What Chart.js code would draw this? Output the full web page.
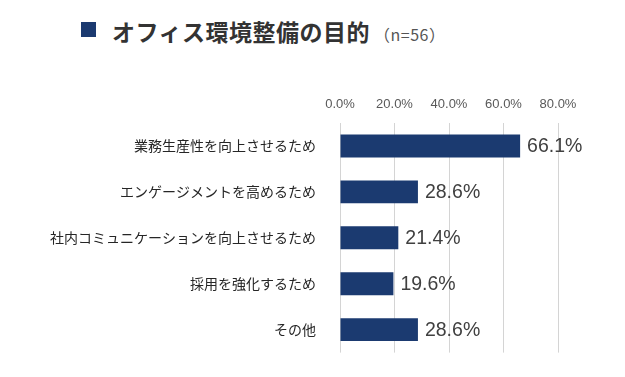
<!DOCTYPE html>
<html><head><meta charset="utf-8">
<script src="https://cdn.jsdelivr.net/npm/chart.js@4/dist/chart.umd.min.js"></script>
<style>
html,body{margin:0;padding:0;background:#fff;}
#wrap{position:relative;width:625px;height:377px;overflow:hidden;}
#sq{position:absolute;left:81px;top:22px;width:15px;height:15px;background:#1b3a70;}
#title{position:absolute;left:112px;top:16px;font-family:"Noto Sans CJK JP";font-weight:bold;font-size:23px;color:#333;line-height:30px;white-space:nowrap;letter-spacing:0.5px;}
#title span{font-weight:normal;font-size:16px;color:#555;margin-left:4px;letter-spacing:0.5px;}
canvas{position:absolute;left:0;top:0;}
</style></head>
<body><div id="wrap">
<div id="sq"></div>
<div id="title">オフィス環境整備の目的<span>（n=56）</span></div>
<canvas id="c" width="625" height="377"></canvas>
</div>
<script>
const categories = ["業務生産性を向上させるため","エンゲージメントを高めるため","社内コミュニケーションを向上させるため","採用を強化するため","その他"];
const values = [66.1, 28.6, 21.4, 19.6, 28.6];
const tickValues = [0, 20, 40, 60, 80];

const dataLabels = {
  id:'dataLabels',
  afterDatasetsDraw(chart){
    const ctx = chart.ctx;
    const meta = chart.getDatasetMeta(0);
    ctx.save();
    ctx.font = '19.5px "Liberation Sans", Arial, sans-serif';
    ctx.fillStyle = '#404040';
    ctx.textAlign = 'left';
    ctx.textBaseline = 'middle';
    meta.data.forEach((bar,i)=>{
      ctx.fillText(values[i].toFixed(1)+'%', bar.x + 7, bar.y + 1);
    });
    ctx.restore();
  }
};

new Chart(document.getElementById('c'), {
  type:'bar',
  data:{labels:categories, datasets:[{data:values, backgroundColor:'#1b3a70', borderWidth:0, categoryPercentage:1, barPercentage:0.5}]},
  options:{
    responsive:false, animation:false, indexAxis:'y',
    layout:{padding:{top:90,right:67,bottom:24,left:0}},
    plugins:{legend:{display:false},tooltip:{enabled:false}},
    scales:{
      x:{position:'top', min:0, max:80,
        afterBuildTicks(s){ s.ticks = tickValues.map(v=>({value:v})); },
        afterFit(s){ s.height = 33; },
        grid:{color:'#d4d4d4', drawTicks:false, lineWidth:1},
        border:{display:false},
        ticks:{padding:11, color:'#595959', font:{family:'"Liberation Sans", Arial, sans-serif', size:13}, callback:(v)=>Number(v).toFixed(1)+'%'}
      },
      y:{
        afterFit(s){ s.width = 340; },
        grid:{display:false}, border:{display:false},
        ticks:{padding:16, color:'#262626', font:{family:'"Noto Sans CJK JP"', size:14}}
      }
    }
  },
  plugins:[dataLabels]
});
</script>
</body></html>
